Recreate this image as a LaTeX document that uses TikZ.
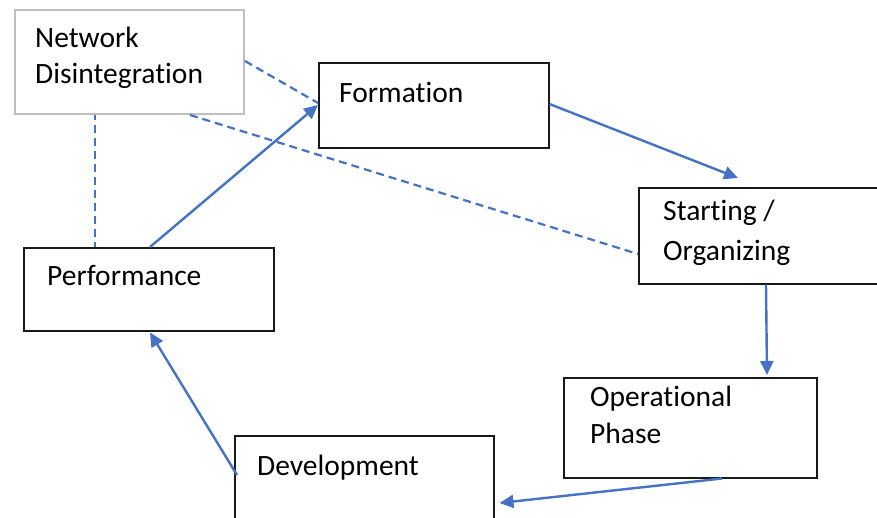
\documentclass[tikz,border=0pt]{standalone}
\usepackage{fontspec}
\setmainfont{Carlito}[Ligatures=NoCommon]
\usetikzlibrary{arrows.meta}
\definecolor{flowblue}{HTML}{4472C4}
\definecolor{boxgray}{HTML}{BFBFBF}
\tikzset{
  stagebox/.style={draw=black!90, line width=1.5pt, rectangle, inner sep=0pt, anchor=north west},
  flow/.style={draw=flowblue, line width=2.4pt, -{Triangle[length=14pt,width=13pt]}},
  link/.style={draw=flowblue, line width=2.2pt, dash pattern=on 8pt off 5pt},
  tag/.style={anchor=base west, inner sep=0pt, align=left, font=\fontsize{29.5}{36}\selectfont}
}
\begin{document}
\begin{tikzpicture}[x=1pt, y=-1pt]
\useasboundingbox (0,0) rectangle (877,517);
\clip (0,0) rectangle (877,517);

% stage boxes (the label's base is the baseline of its last line)
\node[stagebox, draw=boxgray, line width=2pt, minimum width=229pt, minimum height=104pt,
  label={[tag, xshift=21pt, yshift=-74pt]north west:Network\\Disintegration}] (net) at (14,9) {};
\node[stagebox, minimum width=230pt, minimum height=85pt,
  label={[tag, xshift=21pt, yshift=-40pt]north west:Formation}] (form) at (318,62) {};
\node[stagebox, minimum width=250pt, minimum height=96pt,
  label={[tag, font=\fontsize{29.5}{40}\selectfont, xshift=25pt, yshift=-73pt]north west:Starting /\\Organizing}] (start) at (638,187) {};
\node[stagebox, minimum width=250pt, minimum height=83pt,
  label={[tag, xshift=24pt, yshift=-38pt]north west:Performance}] (perf) at (23,247) {};
\node[stagebox, minimum width=253pt, minimum height=100pt,
  label={[tag, font=\fontsize{29.5}{36.5}\selectfont, xshift=27pt, yshift=-66pt]north west:Operational\\Phase}] (oper) at (563,377) {};
\node[stagebox, minimum width=259pt, minimum height=110pt,
  label={[tag, xshift=23pt, yshift=-40pt]north west:Development}] (dev) at (234,435) {};

% dashed links from network disintegration
\draw[link] ([yshift=-52pt]net.north east) -- ([yshift=-41pt]form.north west);
\draw[link] ([xshift=176pt]net.south west) -- ([yshift=-67pt]start.north west);
\draw[link, dash phase=3pt] ([xshift=81pt]net.south west) -- ([xshift=72pt]perf.north west);

% life-cycle arrows
\draw[flow] ([xshift=127pt]perf.north west) -- ([yshift=-43pt]form.north west);
\draw[flow] ([yshift=-42pt]form.north east) -- ([xshift=100pt,yshift=9pt]start.north west);
\draw[flow] ([xshift=128pt]start.south west) -- ([xshift=204pt,yshift=2pt]oper.north west);
\draw[flow] ([xshift=159pt]oper.south west) -- ([xshift=5pt,yshift=-68pt]dev.north east);
\draw[flow] ([xshift=3pt,yshift=-40pt]dev.north west) -- ([xshift=127pt,yshift=-1pt]perf.south west);
\end{tikzpicture}
\end{document}
